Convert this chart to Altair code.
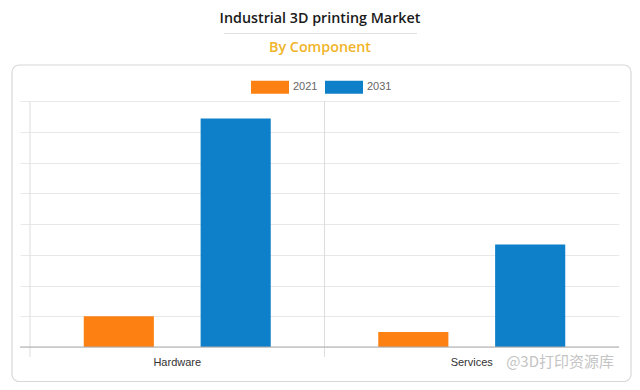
import altair as alt
import pandas as pd

components = ["Hardware", "Services"]
years = ["2021", "2031"]
values_2021 = [1.0, 0.49]
values_2031 = [7.43, 3.33]
colors = ["#fd8012", "#0e7fc9"]
title_text = "Industrial 3D printing Market"
subtitle_text = "By Component"
watermark = "@3D打印资源库"

rows = []
for i, c in enumerate(components):
    rows.append({"component": c, "year": years[0], "value": values_2021[i]})
    rows.append({"component": c, "year": years[1], "value": values_2031[i]})
df = pd.DataFrame(rows)
one = pd.DataFrame({"k": [0]})

W, H = 589, 246
xscale = alt.Scale(domain=components, paddingInner=0, paddingOuter=0)

card = alt.Chart(one).mark_rect(
    fill=None, stroke="#d8d8d8", strokeWidth=1.2, cornerRadius=7
).encode(x=alt.value(-18), x2=alt.value(601), y=alt.value(-36), y2=alt.value(280.5))

dividers = alt.Chart(pd.DataFrame({"component": components})).mark_rule(
    color="#dddddd", strokeWidth=1
).encode(
    x=alt.X("component:N", scale=xscale, sort=components, bandPosition=0, title=None),
    y=alt.value(0), y2=alt.value(H + 10),
)

bars = alt.Chart(df).mark_bar().encode(
    x=alt.X("component:N", scale=xscale, sort=components, title=None),
    xOffset=alt.XOffset("year:N", sort=years,
                        scale=alt.Scale(paddingInner=0.4, paddingOuter=0.46)),
    y=alt.Y("value:Q", scale=alt.Scale(domain=[0, 8], nice=False),
            axis=alt.Axis(title=None, labels=False, domain=False,
                          values=list(range(9)), grid=True, gridColor="#e8e8e8",
                          tickColor="#e8e8e8", tickSize=10)),
    color=alt.Color("year:N", scale=alt.Scale(domain=years, range=colors),
                    legend=alt.Legend(
                        title=None, orient="none", direction="horizontal",
                        legendX=221, legendY=-33,
                        symbolType="M-1,-0.34H1V0.34H-1Z", symbolSize=1444,
                        symbolStrokeWidth=0, labelFont="Liberation Sans",
                        labelFontSize=11, labelColor="#666666",
                        labelOffset=4, columnPadding=7)),
)

baseline = alt.Chart(one).mark_rule(color="#aaaaaa", strokeWidth=1).encode(
    x=alt.value(-10), x2=alt.value(W), y=alt.value(H))

sep = alt.Chart(one).mark_rule(color="#e2e2e2", strokeWidth=1).encode(
    x=alt.value(194), x2=alt.value(387), y=alt.value(-67.5))

title = alt.Chart(pd.DataFrame({"t": [title_text]})).mark_text(
    font="Open Sans", fontSize=14.3, fontWeight=600, color="#1a1a1a",
    baseline="alphabetic", align="center"
).encode(text="t:N", x=alt.value(290), y=alt.value(-78.5))

subtitle = alt.Chart(pd.DataFrame({"t": [subtitle_text]})).mark_text(
    font="Open Sans", fontSize=14.3, fontWeight=600, color="#f0b429",
    baseline="alphabetic", align="center"
).encode(text="t:N", x=alt.value(290), y=alt.value(-49.5))

wm = alt.Chart(pd.DataFrame({"t": [watermark]})).mark_text(
    font="Noto Sans CJK SC", fontSize=15, color="#c4c4c4",
    baseline="middle", align="right"
).encode(text="t:N", x=alt.value(584), y=alt.value(261))

chart = alt.layer(card, dividers, bars, baseline, sep, title, subtitle, wm).properties(
    width=W, height=H,
    autosize=alt.AutoSizeParams(type="none"),
    padding={"left": 22, "top": 93, "right": 13, "bottom": 35},
    background="white",
).configure_view(stroke=None).configure_axisX(
    domain=False, ticks=False, labelAngle=0, labelPadding=9, labelFontSize=11,
    labelColor="#333333", labelFont="Liberation Sans", grid=False, title=None
)

chart.save("out.html", embed_options={"renderer": "svg", "actions": False})
